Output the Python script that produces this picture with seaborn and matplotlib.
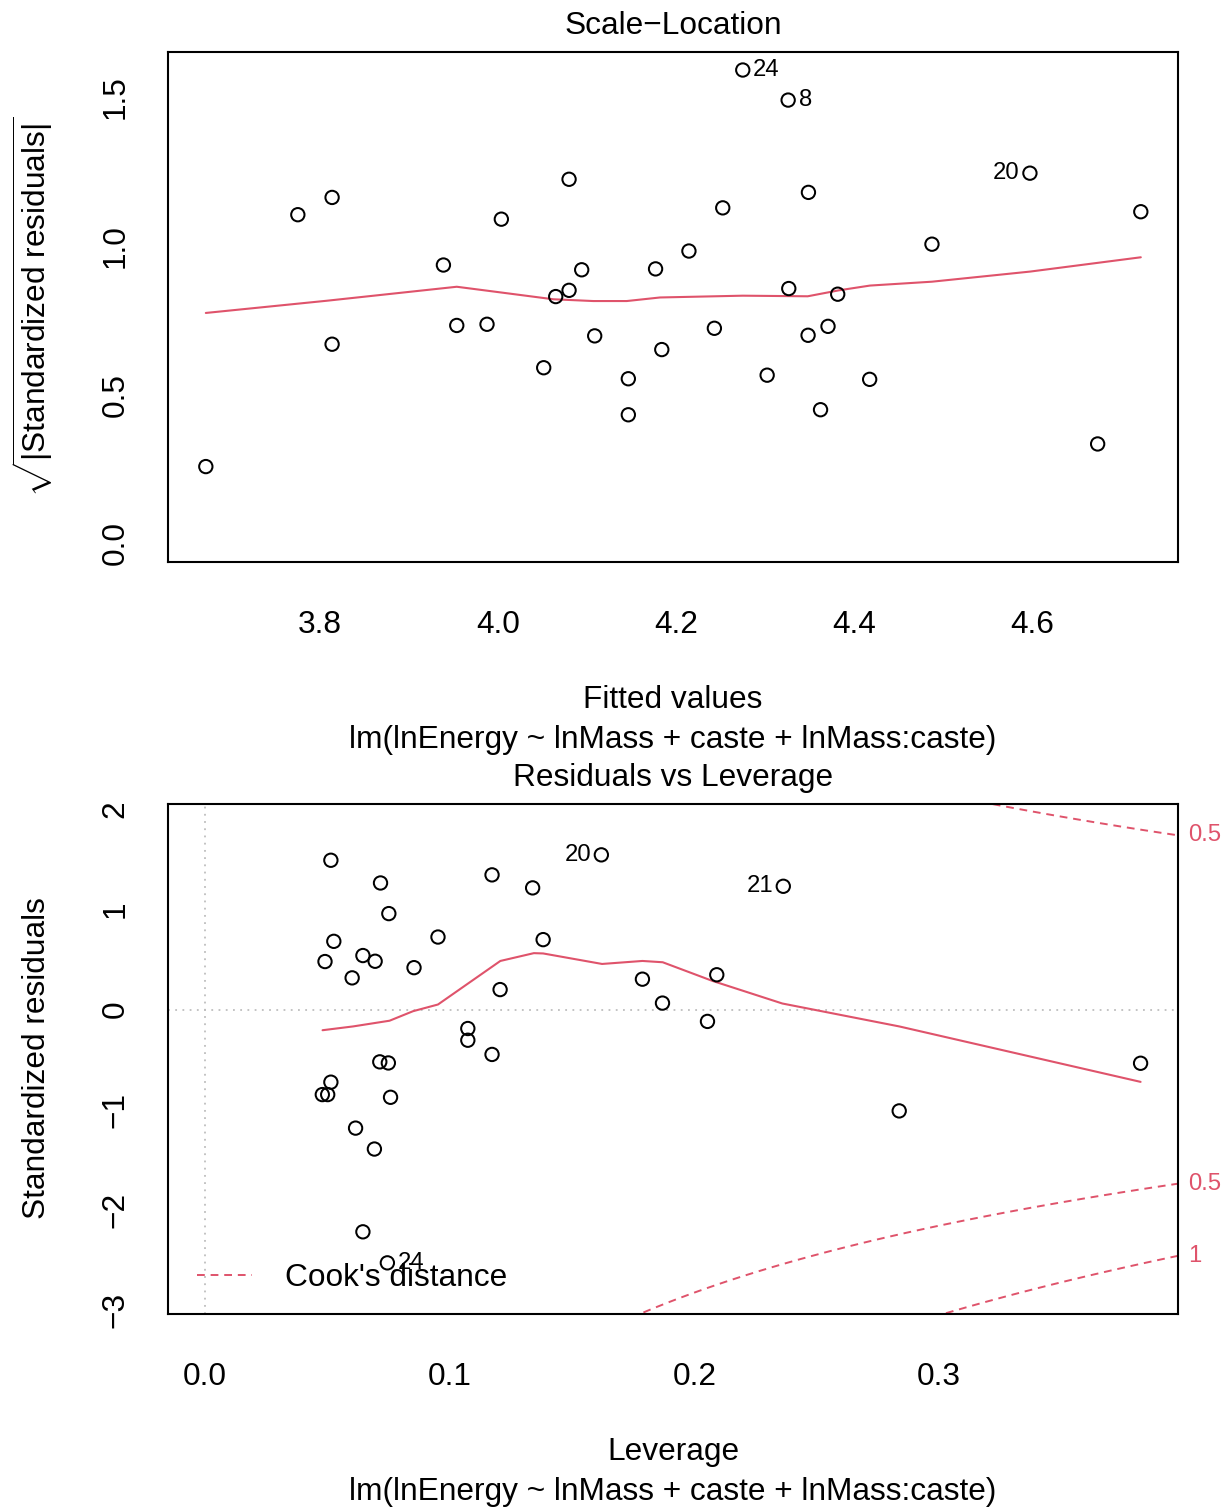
import numpy as np
import pandas as pd
import matplotlib
matplotlib.use("Agg")
import matplotlib.pyplot as plt
import matplotlib.transforms as mtransforms
import seaborn as sns

# ---------------- data ----------------
fitted_values = [3.6716, 3.7750, 3.8135, 3.8135, 3.9386, 3.9536, 3.9876, 4.0037,
                 4.0513, 4.0648, 4.0798, 4.0798, 4.0940, 4.1086, 4.1464, 4.1464,
                 4.1770, 4.1840, 4.2145, 4.2431, 4.2525, 4.2750, 4.3024, 4.3260,
                 4.3267, 4.3488, 4.3484, 4.3624, 4.3708, 4.3817, 4.4176, 4.4876,
                 4.5977, 4.6738, 4.7223]
sqrt_abs_std_resid = [0.258, 1.104, 1.162, 0.669, 0.935, 0.732, 0.736, 1.089,
                      0.590, 0.829, 0.850, 1.223, 0.919, 0.697, 0.553, 0.432,
                      0.922, 0.651, 0.982, 0.7225, 1.127, 1.590, 0.565, 1.489,
                      0.856, 1.179, 0.699, 0.449, 0.729, 0.837, 0.551, 1.005,
                      1.2435, 0.334, 1.114]
scale_loc_smooth_x = [3.6716, 3.8075, 3.9536, 3.9950, 4.0620, 4.1070, 4.1446, 4.1820,
                      4.2750, 4.3480, 4.3830, 4.4180, 4.4876, 4.5980, 4.7223]
scale_loc_smooth_y = [0.774, 0.815, 0.862, 0.846, 0.820, 0.814, 0.814, 0.826,
                      0.832, 0.830, 0.850, 0.866, 0.879, 0.913, 0.961]
scale_loc_label_idx = [21, 23, 32]
scale_loc_label_txt = ["24", "8", "20"]
scale_loc_label_side = ["right", "right", "left"]

leverage = [0.0514, 0.0717, 0.0751, 0.1173, 0.1339, 0.1382, 0.0952, 0.0526,
            0.0490, 0.0645, 0.0695, 0.0601, 0.0854, 0.1206, 0.1074, 0.1074,
            0.1173, 0.0714, 0.0749, 0.0514, 0.0479, 0.0501, 0.0758, 0.0615,
            0.0692, 0.0645, 0.0745, 0.1620, 0.2364, 0.1788, 0.1870, 0.2092,
            0.2054, 0.2838, 0.3825]
std_resid = [1.491, 1.264, 0.958, 1.345, 1.215, 0.698, 0.724, 0.681,
             0.479, 0.539, 0.482, 0.316, 0.418, 0.199, -0.190, -0.307,
             -0.449, -0.523, -0.534, -0.726, -0.850, -0.850, -0.877, -1.185,
             -1.394, -2.221, -2.531, 1.545, 1.231, 0.303, 0.064, 0.347,
             -0.119, -1.013, -0.537]
lev_smooth_x = [0.0480, 0.0605, 0.0754, 0.0850, 0.0952, 0.1207, 0.1344, 0.1382,
                0.1623, 0.1788, 0.1871, 0.2074, 0.2360, 0.2838, 0.3825]
lev_smooth_y = [-0.207, -0.169, -0.112, -0.017, 0.050, 0.485, 0.563, 0.560,
                0.455, 0.485, 0.472, 0.286, 0.060, -0.169, -0.723]
lev_label_idx = [26, 27, 28]
lev_label_txt = ["24", "20", "21"]
lev_label_side = ["right", "left", "left"]

cook_levels = [0.5, 1.0]
n_coef = 4

top_xticks = [3.8, 4.0, 4.2, 4.4, 4.6]
top_yticks = [0.0, 0.5, 1.0, 1.5]
bot_xticks = [0.0, 0.1, 0.2, 0.3]
bot_yticks = [-3, -2, -1, 0, 1, 2]

title_top = "Scale\u2212Location"
title_bot = "Residuals vs Leverage"
xlab_top = "Fitted values"
xlab_bot = "Leverage"
ylab_top = r"$\sqrt{|\mathrm{Standardized\ residuals}|}$"
ylab_bot = "Standardized residuals"
caption = "lm(lnEnergy ~ lnMass + caste + lnMass:caste)"
legend_label = "Cook's distance"

# ---------------- style ----------------
sns.set_theme(style="white")
plt.rcParams["font.family"] = ["Liberation Sans", "DejaVu Sans"]
plt.rcParams["mathtext.fontset"] = "custom"
plt.rcParams["mathtext.rm"] = "Liberation Sans"
plt.rcParams["mathtext.it"] = "Liberation Sans:italic"
plt.rcParams["mathtext.bf"] = "Liberation Sans:bold"
plt.rcParams["axes.unicode_minus"] = True
plt.rcParams["text.color"] = "black"
plt.rcParams["axes.labelcolor"] = "black"
plt.rcParams["xtick.color"] = "black"
plt.rcParams["ytick.color"] = "black"

RED = "#DF536B"
GRAY = "#BEBEBE"
FS = 22.8
FS_SMALL = 17.2
MS = 92
MLW = 1.45

W, H = 1225, 1507
fig = plt.figure(figsize=(W / 100, H / 100), dpi=100)
fig.patch.set_facecolor("white")


def fx(px):
    return px / W


def fy(py):
    return 1 - py / H


L, R = 168, 1178
ax1 = fig.add_axes([fx(L), fy(562), (R - L) / W, (562 - 52) / H])
ax2 = fig.add_axes([fx(L), fy(1313.5), (R - L) / W, (1313.5 - 803.5) / H])


def style_axes(ax, xt, yt, xlabels, ylabels):
    for s in ax.spines.values():
        s.set_visible(True)
        s.set_color("black")
        s.set_linewidth(1.5)
    ax.set_xticks(xt)
    ax.set_xticklabels(xlabels, fontsize=FS, color="black")
    ax.set_yticks(yt)
    ax.set_yticklabels(ylabels, fontsize=FS, rotation=90, va="center",
                       color="black")
    ax.tick_params(axis="both", direction="out", length=13.2, width=1.5,
                   color="black", labelcolor="black")
    ax.tick_params(axis="x", pad=21.4)
    ax.tick_params(axis="y", pad=13.7)
    ax.set_xlabel("")
    ax.set_ylabel("")
    ax.grid(False)


# ---------------- top: Scale-Location ----------------
top_df = pd.DataFrame({"fitted": fitted_values, "sqrtres": sqrt_abs_std_resid})
sns.scatterplot(data=top_df, x="fitted", y="sqrtres", ax=ax1, marker="o",
                s=MS, facecolor="none", edgecolor="black", linewidth=MLW,
                zorder=3)
sns.lineplot(x=scale_loc_smooth_x, y=scale_loc_smooth_y, ax=ax1, color=RED,
             linewidth=1.5, sort=False, estimator=None, zorder=2)
ax1.set_xlim(3.6291, 4.7641)
ax1.set_ylim(-0.0625, 1.6505)
style_axes(ax1, top_xticks, top_yticks,
           [f"{v:.1f}" for v in top_xticks], [f"{v:.1f}" for v in top_yticks])

for i, t, side in zip(scale_loc_label_idx, scale_loc_label_txt, scale_loc_label_side):
    dx = 7.5 if side == "right" else -7.5
    ax1.annotate(t, xy=(fitted_values[i], sqrt_abs_std_resid[i]),
                 xytext=(dx, 0), textcoords="offset points",
                 ha="left" if side == "right" else "right", va="center",
                 fontsize=FS_SMALL, color="black")

# ---------------- bottom: Residuals vs Leverage ----------------
bot_df = pd.DataFrame({"lev": leverage, "res": std_resid})
ax2.set_xlim(-0.0152, 0.3978)
ax2.set_ylim(-3.037, 2.058)
ax2.axhline(0, color=GRAY, linewidth=1.3, linestyle=(0, (1, 3)), zorder=1)
ax2.axvline(0, color=GRAY, linewidth=1.3, linestyle=(0, (1, 3)), zorder=1)
sns.scatterplot(data=bot_df, x="lev", y="res", ax=ax2, marker="o",
                s=MS, facecolor="none", edgecolor="black", linewidth=MLW,
                zorder=3)
sns.lineplot(x=lev_smooth_x, y=lev_smooth_y, ax=ax2, color=RED,
             linewidth=1.5, sort=False, estimator=None, zorder=2)

usr_right = ax2.get_xlim()[1]
lev_arr = np.asarray(leverage)
hh = np.linspace(min(lev_arr.min(), lev_arr.max() / 100), usr_right, 101)
cook_handle = None
for crit in cook_levels:
    cl_h = np.sqrt(crit * n_coef * (1 - hh) / hh)
    ln, = ax2.plot(hh, cl_h, color=RED, linewidth=1.4, dashes=(4, 3), zorder=2)
    ax2.plot(hh, -cl_h, color=RED, linewidth=1.4, dashes=(4, 3), zorder=2)
    if cook_handle is None:
        cook_handle = ln
cook_handle.set_label(legend_label)

ylo, yhi = ax2.get_ylim()
blend = mtransforms.blended_transform_factory(ax2.transAxes, ax2.transData)
for crit in cook_levels:
    aty = np.sqrt(crit * n_coef * (1 - usr_right) / usr_right)
    for yv in (aty, -aty):
        if ylo <= yv <= yhi:
            ax2.annotate(f"{crit:g}", xy=(1, yv), xycoords=blend,
                         xytext=(7, 0), textcoords="offset points",
                         ha="left", va="center", fontsize=FS_SMALL, color=RED,
                         annotation_clip=False)

style_axes(ax2, bot_xticks, bot_yticks,
           [f"{v:.1f}" for v in bot_xticks],
           [f"{v:d}".replace("-", "\u2212") for v in bot_yticks])

for i, t, side in zip(lev_label_idx, lev_label_txt, lev_label_side):
    dx = 7.5 if side == "right" else -7.5
    ax2.annotate(t, xy=(leverage[i], std_resid[i]),
                 xytext=(dx, 0), textcoords="offset points",
                 ha="left" if side == "right" else "right", va="center",
                 fontsize=FS_SMALL, color="black")

leg = ax2.legend(handles=[cook_handle], loc="lower left",
                 bbox_to_anchor=((196.7 - L) / (R - L), (1313.5 - 1293.4) / 510),
                 frameon=False, fontsize=FS, handlelength=1.74,
                 handletextpad=1.05, borderaxespad=0, borderpad=0)
for txt in leg.get_texts():
    txt.set_color("black")

# ---------------- texts ----------------
cx = (L + R) / 2
fig.text(fx(cx), fy(34), title_top, ha="center", va="baseline", fontsize=FS)
fig.text(fx(cx), fy(708), xlab_top, ha="center", va="baseline", fontsize=FS)
fig.text(fx(cx), fy(748), caption, ha="center", va="baseline", fontsize=FS)
fig.text(fx(cx), fy(786), title_bot, ha="center", va="baseline", fontsize=FS)
fig.text(fx(cx), fy(1460), xlab_bot, ha="center", va="baseline", fontsize=FS)
fig.text(fx(cx), fy(1500), caption, ha="center", va="baseline", fontsize=FS)

fig.text(fx(33), fy(307), ylab_top, ha="center", va="center", rotation=90,
         fontsize=FS)
fig.text(fx(37), fy(1058.5), ylab_bot, ha="center", va="center", rotation=90,
         fontsize=FS)

fig.savefig("out.png", dpi=100, facecolor="white")
